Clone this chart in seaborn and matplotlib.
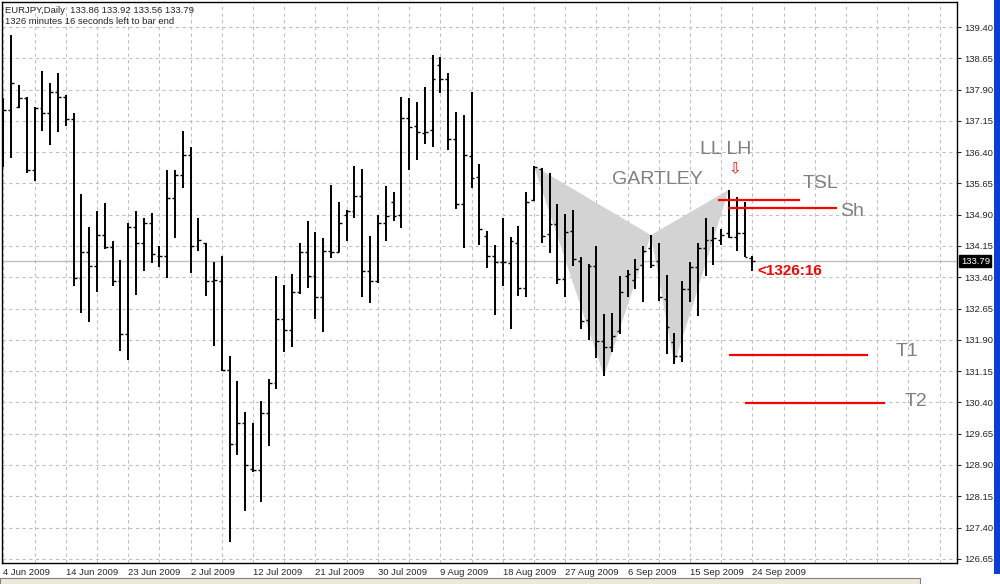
import numpy as np
import pandas as pd
import matplotlib
matplotlib.use("Agg")
import matplotlib.pyplot as plt
import matplotlib.transforms as mtrans
from matplotlib.patches import Rectangle, Polygon
import seaborn as sns

# EURJPY daily bars, 4 Jun 2009 .. 24 Sep 2009 (Sunday bars included)
opens = [137.42, 137.40, 137.49, 137.70, 135.98, 137.47, 137.33, 137.84, 137.73, 137.19,
         133.39, 134.00, 133.68, 134.42, 134.12, 133.30, 132.05, 134.61, 134.23, 134.70,
         133.90, 133.90, 135.30, 135.86, 136.33, 134.16, 134.21, 133.32, 133.32, 131.17,
         129.41, 129.90, 128.80, 128.78, 130.14, 130.87, 132.39, 132.13, 133.04, 134.00,
         133.42, 132.92, 134.02, 134.00, 134.90, 135.00, 135.35, 133.55, 133.32, 134.70,
         135.21, 134.90, 137.23, 137.03, 136.86, 136.93, 138.50, 138.15, 136.72, 135.16,
         136.31, 135.81, 134.40, 133.90, 133.76, 133.74, 134.23, 133.15, 135.25, 136.00,
         134.44, 134.68, 133.37, 134.51, 133.78, 132.38, 133.67, 131.86, 131.74, 132.10,
         133.44, 133.34, 133.69, 134.09, 133.78, 132.87, 131.85, 131.51, 133.13, 133.64,
         134.11, 134.30, 134.30, 134.47, 134.37, 134.47, 133.86]
highs = [137.70, 139.21, 138.01, 137.73, 137.49, 138.34, 138.06, 138.29, 137.77, 137.33,
         135.40, 134.61, 135.00, 135.18, 134.28, 133.81, 134.70, 135.00, 134.83, 134.95,
         134.14, 135.96, 135.98, 136.91, 136.53, 134.83, 134.23, 133.76, 133.90, 131.51,
         130.91, 130.16, 129.90, 130.43, 130.96, 133.42, 133.22, 133.48, 134.21, 134.75,
         134.49, 134.33, 135.61, 135.21, 135.02, 136.07, 136.00, 134.40, 134.89, 135.58,
         135.44, 137.73, 137.70, 137.61, 137.96, 138.72, 138.67, 138.29, 137.37, 137.28,
         137.84, 136.12, 134.52, 134.18, 134.83, 134.37, 134.62, 135.44, 136.07, 136.03,
         135.89, 135.16, 134.92, 135.02, 133.88, 133.72, 134.16, 132.52, 132.55, 133.44,
         133.58, 133.83, 134.14, 134.41, 134.21, 133.46, 132.07, 133.30, 133.76, 134.23,
         134.81, 134.61, 134.56, 135.50, 135.32, 135.21, 133.92]
lows = [136.05, 136.27, 137.45, 135.89, 135.70, 136.91, 136.58, 136.88, 137.02, 133.18,
        132.55, 132.33, 133.04, 134.07, 133.18, 131.63, 131.42, 132.97, 133.55, 133.74,
        133.64, 133.39, 134.35, 135.53, 133.51, 134.02, 132.94, 131.75, 131.15, 127.05,
        129.14, 127.80, 128.73, 128.01, 129.35, 130.72, 131.61, 131.73, 133.01, 133.15,
        132.40, 132.08, 133.86, 134.00, 134.26, 134.83, 132.92, 132.78, 133.27, 134.28,
        134.76, 134.59, 135.98, 136.20, 136.60, 136.53, 137.82, 136.46, 135.04, 134.09,
        135.53, 134.18, 133.62, 132.49, 133.18, 132.17, 132.94, 132.92, 135.23, 134.21,
        133.97, 133.25, 132.92, 133.67, 132.17, 131.89, 131.46, 131.03, 131.60, 132.05,
        132.92, 133.13, 132.80, 133.62, 132.82, 131.57, 131.32, 131.37, 132.80, 132.47,
        133.43, 133.69, 134.18, 134.35, 134.02, 133.88, 133.56]
closes = [137.40, 138.06, 137.70, 135.98, 137.47, 137.33, 137.84, 137.73, 137.19, 133.39,
          134.00, 133.68, 134.42, 134.12, 133.30, 132.05, 134.61, 134.23, 134.70, 133.95,
          133.90, 135.30, 135.86, 136.33, 134.16, 134.30, 133.30, 133.34, 131.17, 129.41,
          129.90, 128.89, 128.78, 130.14, 130.87, 132.39, 132.13, 133.04, 134.00, 133.42,
          132.92, 134.02, 134.00, 134.69, 135.00, 135.35, 133.55, 133.32, 134.70, 134.88,
          134.88, 137.23, 137.00, 136.88, 136.88, 138.15, 138.15, 136.72, 135.16, 136.33,
          135.79, 134.55, 133.90, 133.76, 133.76, 134.26, 133.15, 135.21, 136.05, 134.40,
          134.68, 133.37, 134.49, 133.83, 132.36, 133.67, 131.86, 131.74, 131.98, 133.04,
          133.48, 133.60, 134.02, 133.69, 132.92, 132.20, 131.51, 133.13, 133.64, 134.11,
          134.30, 134.33, 134.42, 134.37, 134.47, 133.88, 133.79]

dates = pd.bdate_range("2009-06-04", "2009-09-24", freq="C",
                       weekmask="Sun Mon Tue Wed Thu Fri")

# gartley points X, A, B, C, D (bar index, price)
pat_idx = [68, 77, 83, 86, 93]
pat_price = [136.07, 131.03, 134.41, 131.32, 135.50]

# horizontal levels: name, price, start bar, end bar
lvl_names = ["TSL", "Sh", "T1", "T2"]
lvl_price = [135.26, 135.05, 131.53, 130.38]
lvl_start = [91.6, 92.9, 93.0, 95.1]
lvl_end = [102.1, 106.9, 110.8, 113.0]

yticks = [126.65 + 0.75 * k for k in range(18)]
last_price = 133.79

sns.set_style("white")
plt.rcParams["font.family"] = ["Liberation Sans", "DejaVu Sans"]

fig = plt.figure(figsize=(10, 5.84), dpi=100)
ax = fig.add_axes([0.002, 0.036, 0.955, 0.9606])

x = np.arange(len(opens))

# grid
for yv in yticks:
    ax.axhline(yv, color="#c0c0c0", lw=0.8, ls=(0, (3, 3)), zorder=0)
for xv in range(0, 124, 4):
    ax.axvline(xv, color="#c0c0c0", lw=0.8, ls=(0, (3, 3)), zorder=0)
ax.axhline(last_price, color="#c0c0c0", lw=1.0, zorder=0.5)

# pattern triangles
xa, aa, ba, ca, da = list(zip(pat_idx, pat_price))
ax.add_patch(Polygon([xa, aa, ba], closed=True, color="#d3d3d3", lw=0, zorder=1))
ax.add_patch(Polygon([ba, ca, da], closed=True, color="#d3d3d3", lw=0, zorder=1))

# OHLC bars
ax.vlines(x, lows, highs, color="black", lw=1.4, zorder=3)
ax.hlines(opens, x - 0.38, x, color="black", lw=1.0, zorder=3)
ax.hlines(closes, x, x + 0.38, color="black", lw=1.0, zorder=3)

# levels
for nm, p, s, e in zip(lvl_names, lvl_price, lvl_start, lvl_end):
    ax.hlines(p, s, e, color="red", lw=1.6, zorder=4)

gray = "#808080"
ax.text(78.0, 135.74, "GARTLEY", color=gray, fontsize=14, ha="left", va="center")
ax.text(89.3, 136.46, "LL LH", color=gray, fontsize=14, ha="left", va="center")
ax.text(93.8, 136.0, "\u21e9", color="red", fontsize=11, ha="center", va="center",
        family=["DejaVu Sans"])
ax.text(102.5, 135.64, "TSL", color=gray, fontsize=14, ha="left", va="center")
ax.text(107.2, 134.97, "Sh", color=gray, fontsize=14, ha="left", va="center")
ax.text(114.4, 131.62, "T1", color=gray, fontsize=14, ha="left", va="center")
ax.text(115.5, 130.43, "T2", color=gray, fontsize=14, ha="left", va="center")
ax.text(96.7, 133.56, "<1326:16", color="red", fontsize=11, fontweight="bold",
        ha="left", va="center")

ax.set_xlim(-0.19, 122.24)
ax.set_ylim(126.55, 140.0)

# axes / ticks
ax.yaxis.tick_right()
ax.set_yticks(yticks)
ax.set_yticklabels([f"{v:.2f}" for v in yticks], fontsize=6.8)
ax.tick_params(axis="y", length=3, pad=2, width=0.8)
tick_pos = list(range(0, len(dates), 8))
ax.set_xticks(tick_pos)
ax.set_xticklabels([f"{dates[i].day} {dates[i].strftime('%b %Y')}" for i in tick_pos],
                   fontsize=6.8)
for lbl in ax.get_xticklabels():
    lbl.set_ha("left")
ax.tick_params(axis="x", length=3, pad=0.5, width=0.8)
for sp in ax.spines.values():
    sp.set_color("black")
    sp.set_linewidth(1.0)

# last price box
tr = mtrans.blended_transform_factory(ax.transAxes, ax.transData)
ax.text(1.004, last_price, "133.79", transform=tr, fontsize=6.8, color="white",
        ha="left", va="center",
        bbox=dict(boxstyle="square,pad=0.15", fc="black", ec="black"))

# header
fig.text(0.005, 0.982, "EURJPY,Daily  133.86 133.92 133.56 133.79", fontsize=6.8,
         ha="left", va="center")
fig.text(0.005, 0.963, "1326 minutes 16 seconds left to bar end", fontsize=6.8,
         ha="left", va="center")

# window chrome
fig.add_artist(Rectangle((0.994, 0.017), 0.006, 0.983, transform=fig.transFigure,
                         color="#0a3fd6", lw=0))
fig.add_artist(Rectangle((0.0, -0.01), 0.92, 0.02, transform=fig.transFigure,
                         fc="#ece9d8", ec="#808080", lw=0.8))

fig.savefig("out.png", dpi=100)
